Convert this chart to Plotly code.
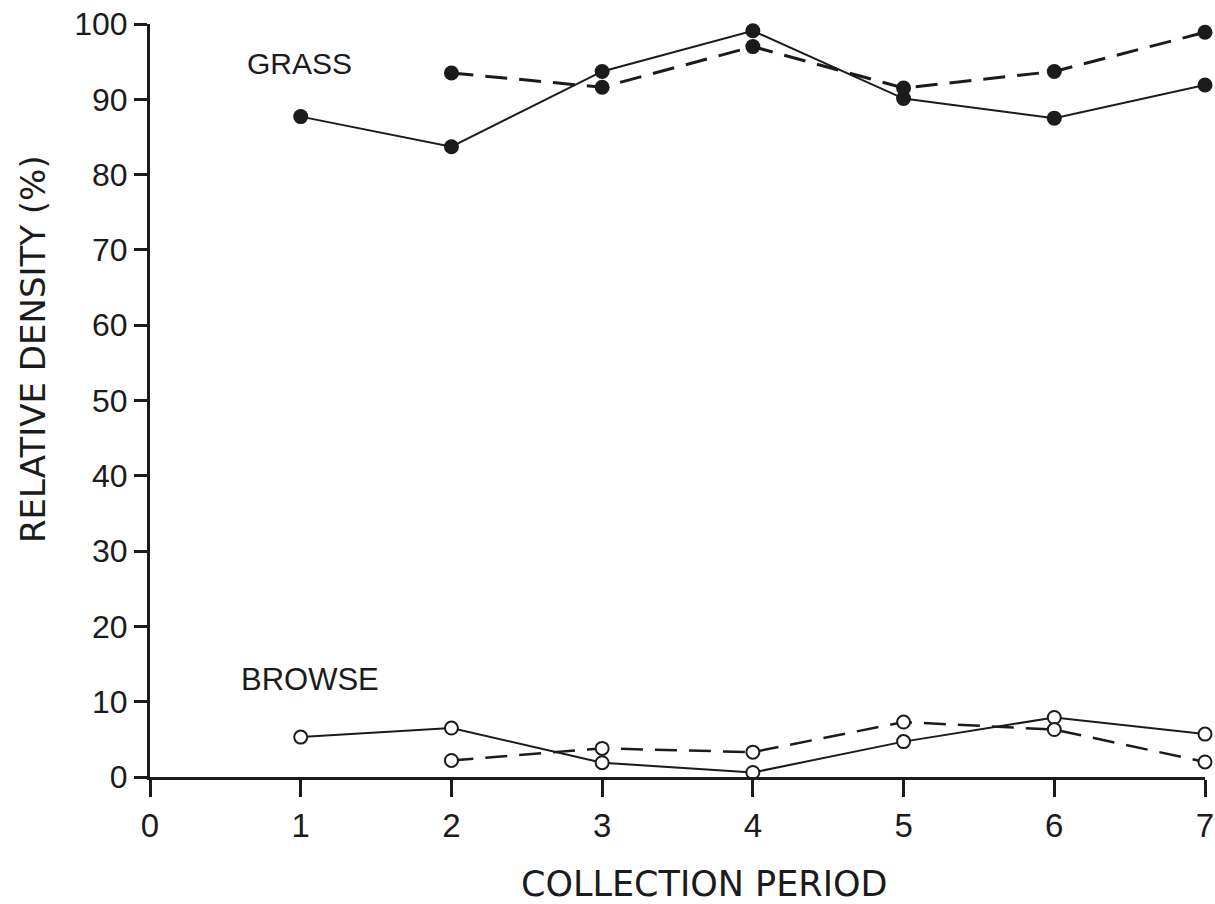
import plotly.graph_objects as go

# Collection periods and relative density (%) of forage classes
periods = [1, 2, 3, 4, 5, 6, 7]
grass_solid = [87.7, 83.7, 93.7, 99.1, 90.1, 87.5, 91.9]
grass_dashed_periods = [2, 3, 4, 5, 6, 7]
grass_dashed = [93.5, 91.6, 97.0, 91.5, 93.7, 98.9]
browse_solid = [5.3, 6.5, 1.9, 0.6, 4.7, 7.9, 5.7]
browse_dashed_periods = [2, 3, 4, 5, 6, 7]
browse_dashed = [2.2, 3.8, 3.3, 7.3, 6.3, 2.0]

x_ticks = [0, 1, 2, 3, 4, 5, 6, 7]
y_ticks = [0, 10, 20, 30, 40, 50, 60, 70, 80, 90, 100]

INK = "#1b1b1b"
FONT = "Liberation Sans"
TITLE_FONT = "DejaVu Sans"

W, H = 1215, 904
ML, MR, MT, MB = 150, 10, 24, 127

fig = go.Figure()

# grass: filled markers
fig.add_trace(go.Scatter(
    x=periods, y=grass_solid, mode="lines+markers",
    line=dict(color=INK, width=2),
    marker=dict(symbol="circle", size=15, color=INK),
    cliponaxis=False, showlegend=False))
fig.add_trace(go.Scatter(
    x=grass_dashed_periods, y=grass_dashed, mode="lines+markers",
    line=dict(color=INK, width=3, dash="22px,12px"),
    marker=dict(symbol="circle", size=15, color=INK),
    cliponaxis=False, showlegend=False))

# browse: open markers
fig.add_trace(go.Scatter(
    x=periods, y=browse_solid, mode="lines+markers",
    line=dict(color=INK, width=2),
    marker=dict(symbol="circle", size=13, color="white",
                line=dict(color=INK, width=2)),
    cliponaxis=False, showlegend=False))
fig.add_trace(go.Scatter(
    x=browse_dashed_periods, y=browse_dashed, mode="lines+markers",
    line=dict(color=INK, width=2.5, dash="22px,12px"),
    marker=dict(symbol="circle", size=13, color="white",
                line=dict(color=INK, width=2)),
    cliponaxis=False, showlegend=False))


def px_to_paper(px, py):
    """Convert page pixel coordinates to paper coordinates."""
    return (px - ML) / (W - ML - MR), (H - MB - py) / (H - MT - MB)


ytx, yty = px_to_paper(33, 349)
xtx, xty = px_to_paper(704, 884)

fig.update_layout(
    width=W, height=H,
    margin=dict(l=ML, r=MR, t=MT, b=MB),
    paper_bgcolor="white", plot_bgcolor="white",
    font=dict(family=FONT, color=INK),
    xaxis=dict(
        range=[0, 7], tickvals=x_ticks, ticktext=[str(v) for v in x_ticks],
        showgrid=False, zeroline=False, automargin=False,
        showline=True, linecolor=INK, linewidth=3,
        ticks="outside", ticklen=17, tickwidth=3, tickcolor=INK,
        tickfont=dict(size=33, family=FONT, color=INK),
    ),
    yaxis=dict(
        range=[0, 100], tickvals=y_ticks, ticktext=[str(v) for v in y_ticks],
        showgrid=False, zeroline=False, automargin=False,
        showline=True, linecolor=INK, linewidth=3,
        ticks="outside", ticklen=13, tickwidth=3, tickcolor=INK,
        tickfont=dict(size=32, family=FONT, color=INK),
    ),
    annotations=[
        dict(text="GRASS", x=0.99, y=94.7, xref="x", yref="y",
             xanchor="center", yanchor="middle", showarrow=False,
             font=dict(size=30, family=FONT, color=INK)),
        dict(text="BROWSE", x=1.06, y=12.9, xref="x", yref="y",
             xanchor="center", yanchor="middle", showarrow=False,
             font=dict(size=31, family=FONT, color=INK)),
        dict(text="RELATIVE DENSITY (%)", x=ytx, y=yty,
             xref="paper", yref="paper", showarrow=False,
             xanchor="center", yanchor="middle",
             textangle=-90, font=dict(size=34, family=TITLE_FONT, color=INK)),
        dict(text="COLLECTION PERIOD", x=xtx, y=xty,
             xref="paper", yref="paper", showarrow=False,
             xanchor="center", yanchor="middle",
             font=dict(size=35, family=TITLE_FONT, color=INK)),
    ],
)

fig.write_html("out.html")
